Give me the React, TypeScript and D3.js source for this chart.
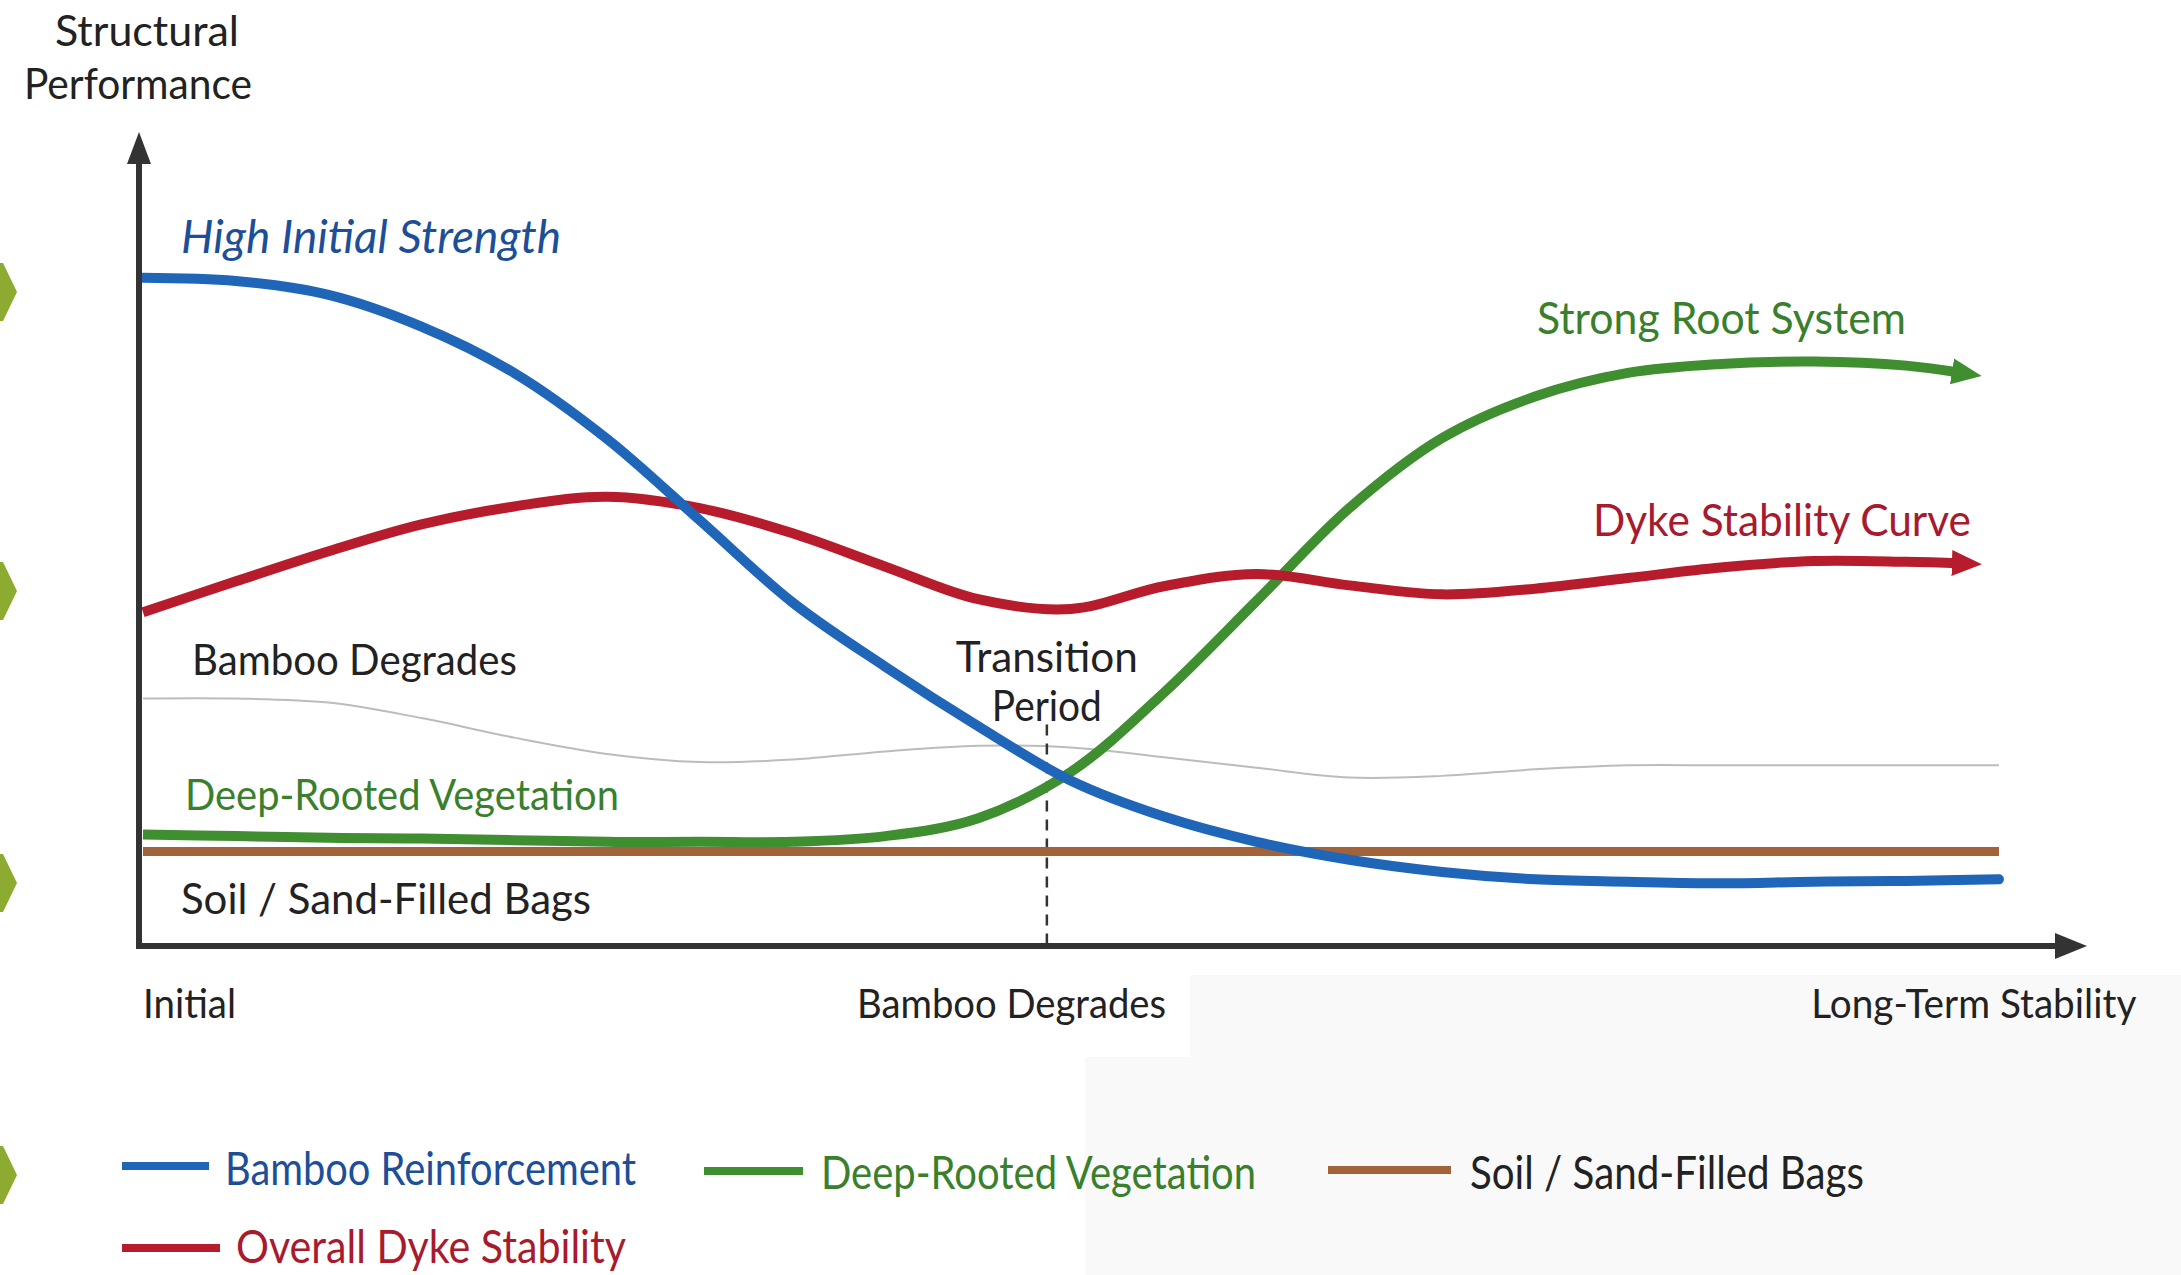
import React from "react";
import * as d3 from "d3";

// stage along the timeline (0 = initial, 100 = long-term)
const stages = [0, 5, 10, 15, 20, 25, 30, 35, 40, 45, 50, 55, 60, 65, 70, 75, 80, 85, 90, 95, 100];
const arrowStages = [0, 5, 10, 15, 20, 25, 30, 35, 40, 45, 50, 55, 60, 65, 70, 75, 80, 85, 90, 95, 98];

const bambooValues = [82.1, 81.7, 80.0, 76.1, 70.4, 62.3, 52.3, 42.2, 34.3, 27.0, 20.3, 15.9, 12.8, 10.6, 9.1, 8.2, 7.9, 7.7, 7.9, 8.0, 8.2];
const vegetationValues = [13.7, 13.5, 13.3, 13.2, 13.0, 12.8, 12.8, 12.8, 13.5, 15.7, 21.4, 31.1, 42.4, 53.8, 62.4, 67.5, 70.4, 71.5, 71.8, 71.3, 70.4];
const dykeValues = [41.0, 44.8, 48.5, 51.8, 54.0, 55.2, 53.8, 50.7, 46.6, 42.6, 41.4, 44.2, 45.7, 44.3, 43.2, 43.9, 45.2, 46.5, 47.3, 47.2, 47.0];
const degradeGuide = [30.4, 30.4, 29.9, 28.0, 25.6, 23.6, 22.6, 22.9, 23.9, 24.6, 24.4, 23.2, 21.9, 20.7, 20.9, 21.7, 22.2, 22.2, 22.2, 22.2, 22.2];
const soilStages = [0, 100];
const soilValues = [11.6, 11.6];

const transitionStage = 48.7;
const transitionTop = 27.2;

const stageLabels = ["Initial", "Bamboo Degrades", "Long-Term Stability"];
const stageLabelAt = [0, 46.8, 107.4];

const legendItems = ["Bamboo Reinforcement", "Deep-Rooted Vegetation", "Soil / Sand-Filled Bags", "Overall Dyke Stability"];

const W = 2181;
const H = 1275;
const FONT = "Lato, 'Open Sans', sans-serif";

const C = {
  blue: "#1f66b8",
  blueText: "#1c4f97",
  red: "#b71c2c",
  redText: "#a81a2e",
  green: "#3f8e2f",
  greenText: "#3a7f2b",
  brown: "#a3633a",
  gray: "#bcbcbc",
  axis: "#333333",
  dark: "#222222",
  chevron: "#8cab30",
};

export default function App() {
  const x = d3.scaleLinear().domain([0, 100]).range([143, 1999]);
  const y = d3.scaleLinear().domain([0, 100]).range([946, 132]);

  const lineFor = (xs: number[]) =>
    d3
      .line<number>()
      .x((_, i) => x(xs[i]))
      .y((d) => y(d))
      .curve(d3.curveCatmullRom.alpha(0.5));

  const axisX = x(0) - 4;
  const axisY = y(0);

  const legendLines = [
    { x1: 122, x2: 209, y: 1166, color: C.blue, tx: 225, ty: 1185, tw: 411, fill: C.blueText },
    { x1: 704, x2: 803, y: 1171, color: C.green, tx: 821, ty: 1189, tw: 435, fill: C.greenText },
    { x1: 1328, x2: 1451, y: 1170, color: C.brown, tx: 1470, ty: 1189, tw: 394, fill: C.dark },
    { x1: 122, x2: 220, y: 1248, color: C.red, tx: 236, ty: 1263, tw: 390, fill: C.redText },
  ];

  const chevrons = [292, 591, 883, 1175];

  return (
    <svg
      width={W}
      height={H}
      style={{ position: "absolute", left: 0, top: 0, background: "#ffffff" }}
      fontFamily={FONT}
    >
      <defs>
        <marker id="arrowGreen" viewBox="0 0 30 30" refX="10" refY="15" markerWidth="30" markerHeight="30" markerUnits="userSpaceOnUse" orient="auto">
          <path d="M0,2 L30,15 L0,28 Z" fill={C.green} />
        </marker>
        <marker id="arrowRed" viewBox="0 0 30 30" refX="10" refY="15" markerWidth="30" markerHeight="30" markerUnits="userSpaceOnUse" orient="auto">
          <path d="M0,2 L30,15 L0,28 Z" fill={C.red} />
        </marker>
      </defs>

      {/* faint off-white panel, lower right */}
      <rect x={1190} y={975} width={W - 1190} height={H - 975} fill="#f9f9f9" />
      <rect x={1085} y={1057} width={W - 1085} height={H - 1057} fill="#f9f9f9" />

      {chevrons.map((cy, i) => (
        <path key={i} d={`M0,${cy - 29} L3,${cy - 29} L17,${cy} L3,${cy + 29} L0,${cy + 29} Z`} fill={C.chevron} />
      ))}

      {/* y title */}
      <text x={147} y={46} textAnchor="middle" fontSize={42} fill={C.dark} textLength={184} lengthAdjust="spacingAndGlyphs">Structural</text>
      <text x={138} y={99} textAnchor="middle" fontSize={42} fill={C.dark} textLength={228} lengthAdjust="spacingAndGlyphs">Performance</text>

      {/* guide line */}
      <path d={lineFor(stages)(degradeGuide) || ""} fill="none" stroke={C.gray} strokeWidth={2} />

      {/* transition marker */}
      <line
        x1={x(transitionStage)}
        x2={x(transitionStage)}
        y1={y(transitionTop)}
        y2={y(0)}
        stroke={C.axis}
        strokeWidth={2.5}
        strokeDasharray="11,8"
      />

      {/* series */}
      <path d={lineFor(soilStages)(soilValues) || ""} fill="none" stroke={C.brown} strokeWidth={9} />
      <path d={lineFor(arrowStages)(vegetationValues) || ""} fill="none" stroke={C.green} strokeWidth={10} markerEnd="url(#arrowGreen)" />
      <path d={lineFor(arrowStages)(dykeValues) || ""} fill="none" stroke={C.red} strokeWidth={10} markerEnd="url(#arrowRed)" />
      <path d={lineFor(stages)(bambooValues) || ""} fill="none" stroke={C.blue} strokeWidth={10} strokeLinecap="round" />

      {/* axes */}
      <line x1={axisX} x2={axisX} y1={axisY + 3} y2={160} stroke={C.axis} strokeWidth={6} />
      <path d={`M${axisX},${y(100)} L${axisX - 12},${y(100) + 32} L${axisX + 12},${y(100) + 32} Z`} fill={C.axis} />
      <line x1={axisX - 3} x2={2060} y1={axisY} y2={axisY} stroke={C.axis} strokeWidth={6} />
      <path d={`M2087,${axisY} L2055,${axisY - 13} L2055,${axisY + 13} Z`} fill={C.axis} />

      {/* annotations */}
      <text x={181} y={253} fontSize={46} fontStyle="italic" fill={C.blueText} textLength={380} lengthAdjust="spacingAndGlyphs">High Initial Strength</text>
      <text x={1537} y={334} fontSize={44} fill={C.greenText} textLength={369} lengthAdjust="spacingAndGlyphs">Strong Root System</text>
      <text x={1593} y={536} fontSize={44} fill={C.redText} textLength={378} lengthAdjust="spacingAndGlyphs">Dyke Stability Curve</text>
      <text x={192} y={675} fontSize={43} fill={C.dark} textLength={325} lengthAdjust="spacingAndGlyphs">Bamboo Degrades</text>
      <text x={185} y={810} fontSize={43} fill={C.greenText} textLength={434} lengthAdjust="spacingAndGlyphs">Deep-Rooted Vegetation</text>
      <text x={181} y={914} fontSize={43} fill={C.dark} textLength={410} lengthAdjust="spacingAndGlyphs">Soil / Sand-Filled Bags</text>
      <text x={x(transitionStage)} y={672} textAnchor="middle" fontSize={42} fill={C.dark} textLength={182} lengthAdjust="spacingAndGlyphs">Transition</text>
      <text x={x(transitionStage)} y={721} textAnchor="middle" fontSize={42} fill={C.dark} textLength={110} lengthAdjust="spacingAndGlyphs">Period</text>

      {/* stage labels */}
      {stageLabels.map((s, i) => (
        <text
          key={s}
          x={x(stageLabelAt[i])}
          y={1018}
          fontSize={40}
          fill={C.dark}
          textAnchor={i === 0 ? "start" : i === 1 ? "middle" : "end"}
          textLength={[93, 309, 325][i]}
          lengthAdjust="spacingAndGlyphs"
        >
          {s}
        </text>
      ))}

      {/* legend */}
      {legendItems.map((name, i) => {
        const l = legendLines[i];
        return (
          <g key={name}>
            <line x1={l.x1} x2={l.x2} y1={l.y} y2={l.y} stroke={l.color} strokeWidth={8} />
            <text x={l.tx} y={l.ty} fontSize={47} fill={l.fill} textLength={l.tw} lengthAdjust="spacingAndGlyphs">
              {name}
            </text>
          </g>
        );
      })}
    </svg>
  );
}
